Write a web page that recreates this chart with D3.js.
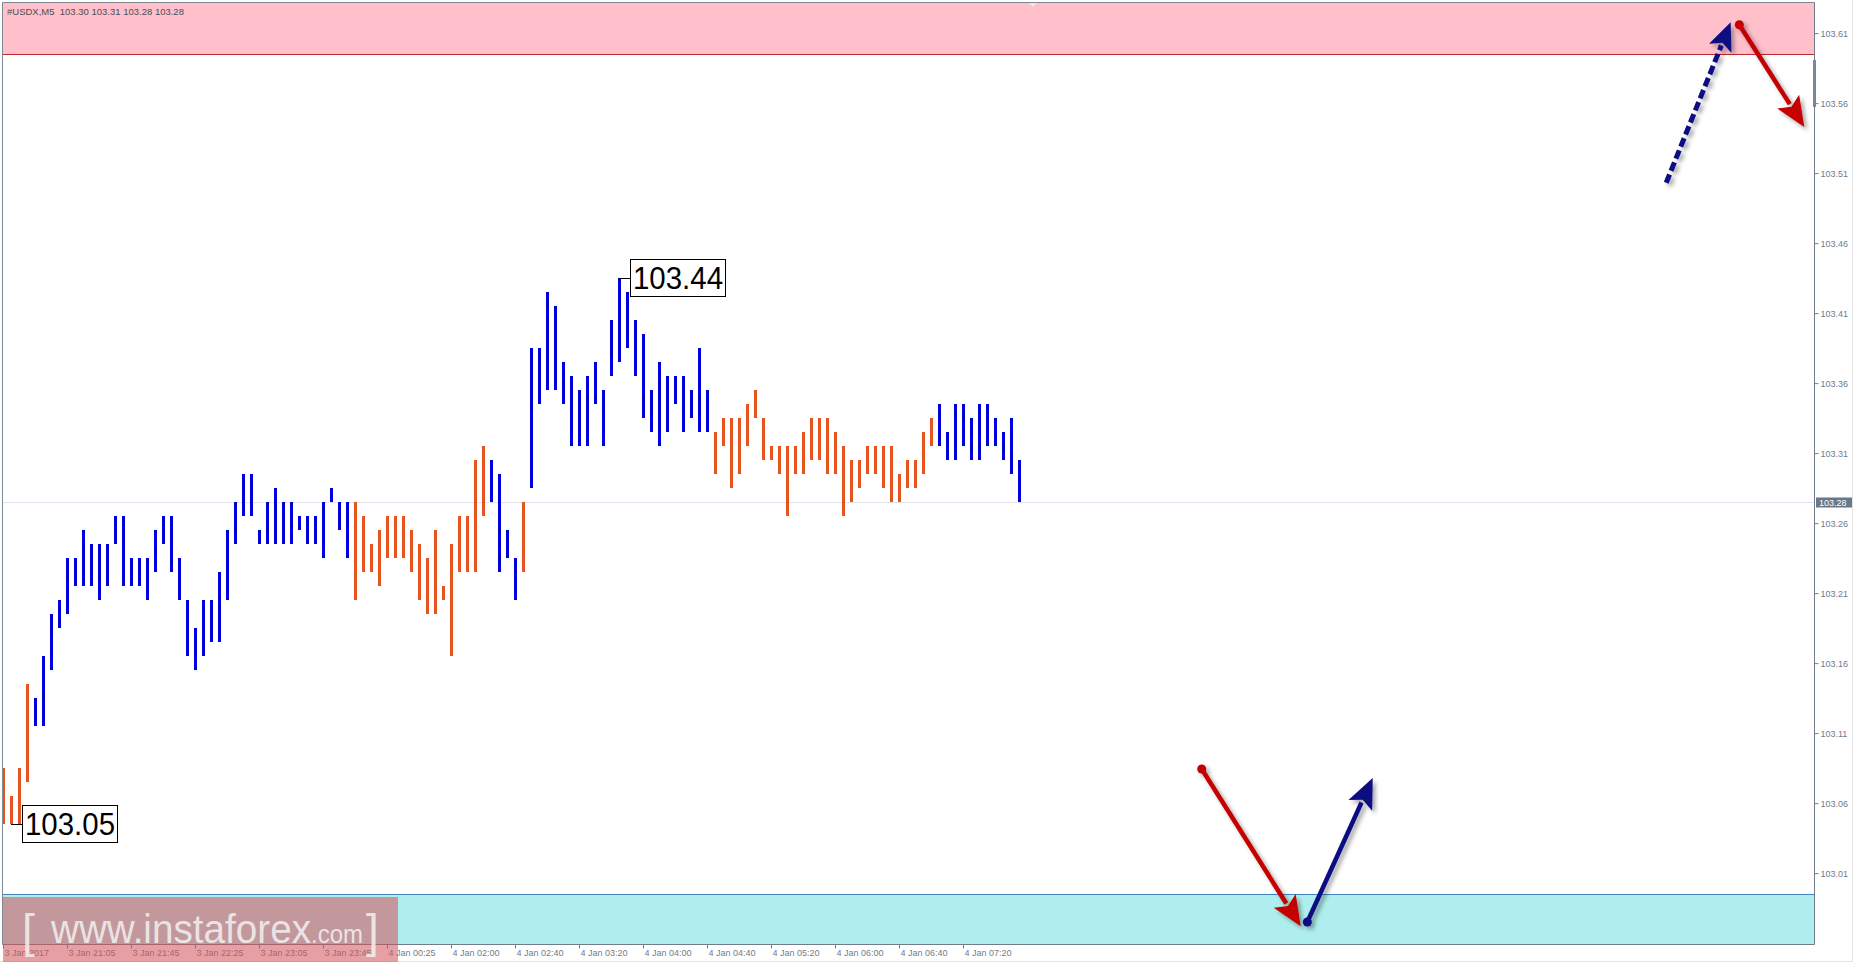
<!DOCTYPE html>
<html>
<head>
<meta charset="utf-8">
<script src="https://cdn.jsdelivr.net/npm/d3@7"></script>
<style>
html,body{margin:0;padding:0;background:#ffffff;}
svg{display:block;}
text{font-family:"Liberation Sans",Arial,sans-serif;}
</style>
</head>
<body>
<svg id="chart" width="1856" height="966"></svg>
<script>
// ---------------- data ----------------
const symbolTitle = "#USDX,M5  103.30 103.31 103.28 103.28";
const barHigh = [
 103.09,103.07,103.09,103.15,103.14,103.17,103.20,103.21,103.24,103.24,
 103.26,103.25,103.25,103.25,103.27,103.27,103.24,103.24,103.24,103.26,
 103.27,103.27,103.24,103.21,103.19,103.21,103.21,103.23,103.26,103.28,
 103.30,103.30,103.26,103.28,103.29,103.28,103.28,103.27,103.27,103.27,
 103.28,103.29,103.28,103.28,103.28,103.27,103.25,103.26,103.27,103.27,
 103.27,103.26,103.25,103.24,103.26,103.22,103.25,103.27,103.27,103.31,
 103.32,103.31,103.30,103.26,103.24,103.28,103.39,103.39,103.43,103.42,
 103.38,103.37,103.36,103.37,103.38,103.36,103.41,103.44,103.43,103.41,
 103.40,103.36,103.38,103.37,103.37,103.37,103.36,103.39,103.36,103.33,
 103.34,103.34,103.34,103.35,103.36,103.34,103.32,103.32,103.32,103.32,
 103.33,103.34,103.34,103.34,103.33,103.32,103.31,103.31,103.32,103.32,
 103.32,103.32,103.30,103.31,103.31,103.33,103.34,103.35,103.33,103.35,
 103.35,103.34,103.35,103.35,103.34,103.33,103.34,103.31
];
const barLow = [
 103.05,103.05,103.05,103.08,103.12,103.12,103.16,103.19,103.20,103.22,
 103.22,103.22,103.21,103.22,103.25,103.22,103.22,103.22,103.21,103.23,
 103.25,103.23,103.21,103.17,103.16,103.17,103.18,103.18,103.21,103.25,
 103.27,103.27,103.25,103.25,103.25,103.25,103.25,103.26,103.25,103.25,
 103.24,103.28,103.26,103.24,103.21,103.23,103.23,103.22,103.24,103.24,
 103.24,103.23,103.21,103.20,103.20,103.21,103.17,103.23,103.23,103.23,
 103.27,103.28,103.23,103.24,103.21,103.23,103.29,103.35,103.36,103.36,
 103.35,103.32,103.32,103.32,103.35,103.32,103.37,103.38,103.39,103.37,
 103.34,103.33,103.32,103.33,103.35,103.33,103.34,103.33,103.33,103.30,
 103.32,103.29,103.30,103.32,103.34,103.31,103.31,103.30,103.27,103.30,
 103.30,103.31,103.31,103.30,103.30,103.27,103.28,103.29,103.30,103.30,
 103.29,103.28,103.28,103.29,103.29,103.30,103.32,103.32,103.31,103.31,
 103.32,103.31,103.31,103.32,103.32,103.31,103.30,103.28
];
// colour runs of the wave indicator (first bar, last bar, direction)
const runStart = [0, 4, 44, 61, 65, 66, 89, 117];
const runEnd   = [3, 43, 60, 64, 65, 88, 116, 127];
const runDir   = ["down","up","down","up","down","up","down","up"];

const timeTickIndex = [0,8,16,24,32,40,48,56,64,72,80,88,96,104,112,120];
const timeTickLabels = ["3 Jan 2017","3 Jan 21:05","3 Jan 21:45","3 Jan 22:25","3 Jan 23:05",
  "3 Jan 23:45","4 Jan 00:25","4 Jan 02:00","4 Jan 02:40","4 Jan 03:20","4 Jan 04:00",
  "4 Jan 04:40","4 Jan 05:20","4 Jan 06:00","4 Jan 06:40","4 Jan 07:20"];
const priceTickLabels = ["103.01","103.06","103.11","103.16","103.21","103.26","103.31",
  "103.36","103.41","103.46","103.51","103.56","103.61"];
const lastPrice = 103.28;
const resistanceZone = [103.60, 103.70];
const supportZone = [102.90, 103.00];
// annotations: [barIndex, price]
const labelHigh = {bar: 77, price: 103.44, text: "103.44"};
const labelLow  = {bar: 1,  price: 103.05, text: "103.05"};
const arrowUpDashed  = {from: [207.9, 103.508], to: [215.96, 103.6226]};
const arrowDownTop   = {from: [217.04, 103.6209], to: [225.16, 103.5479]};
const arrowDownBot   = {from: [149.84, 103.0893], to: [162.21, 102.9769]};
const arrowUpBot     = {from: [163.04, 102.980], to: [171.21, 103.0829]};

// ---------------- layout ----------------
const svg = d3.select("#chart");
const W = 1856, H = 966;
const plotL = 2.5, plotT = 2.5, plotR = 1814.5, plotB = 944.5;
const ORANGE = "#e8531d", BLUE = "#0000dc", AXIS = "#6e7c8b";

const x = d3.scaleLinear().domain([0, 1]).range([3, 11]);          // 8 px per bar
const y = d3.scaleLinear().domain([103.28, 103.44]).range([502, 278]); // 14 px per point

const defs = svg.append("defs");
defs.append("clipPath").attr("id","plotClip").append("rect")
  .attr("x",3).attr("y",3).attr("width",plotR-3).attr("height",plotB-3);
const f = defs.append("filter").attr("id","shadow").attr("x","-20%").attr("y","-20%").attr("width","160%").attr("height","160%");
f.append("feDropShadow").attr("dx",3).attr("dy",3).attr("stdDeviation",2)
  .attr("flood-color","#000").attr("flood-opacity",0.35);

// window frame
svg.append("rect").attr("x",0).attr("y",0).attr("width",W).attr("height",H).attr("fill","#fff");
svg.append("line").attr("x1",1852.5).attr("x2",1852.5).attr("y1",0).attr("y2",961).attr("stroke","#e3e3e3");
svg.append("line").attr("x1",0).attr("x2",1853).attr("y1",961.5).attr("y2",961.5).attr("stroke","#e3e3e3");

const plot = svg.append("g").attr("clip-path","url(#plotClip)");

// zones
plot.append("rect").attr("x",plotL).attr("width",plotR-plotL)
  .attr("y",y(resistanceZone[1])).attr("height",y(resistanceZone[0])-y(resistanceZone[1]))
  .attr("fill","#ffc0cb");
plot.append("line").attr("x1",plotL).attr("x2",plotR)
  .attr("y1",Math.round(y(resistanceZone[0]))+0.5).attr("y2",Math.round(y(resistanceZone[0]))+0.5)
  .attr("stroke","#c0282e").attr("stroke-width",1.2);
plot.append("rect").attr("x",plotL).attr("width",plotR-plotL)
  .attr("y",y(supportZone[1])).attr("height",y(supportZone[0])-y(supportZone[1]))
  .attr("fill","#afeeee");
plot.append("line").attr("x1",plotL).attr("x2",plotR)
  .attr("y1",Math.round(y(supportZone[1]))+0.5).attr("y2",Math.round(y(supportZone[1]))+0.5)
  .attr("stroke","#3f86bf").attr("stroke-width",1.2);

// last price line
plot.append("line").attr("x1",plotL).attr("x2",plotR)
  .attr("y1",y(lastPrice)+0.5).attr("y2",y(lastPrice)+0.5)
  .attr("stroke","#e2e2ee").attr("stroke-width",1);

// bars
const bars = barHigh.map((h,i)=>{
  let dir = "up";
  runStart.forEach((s,k)=>{ if(i>=s && i<=runEnd[k]) dir = runDir[k]; });
  return {i, h, l: barLow[i], dir};
});
plot.append("g").selectAll("rect").data(bars).join("rect")
  .attr("x", d => Math.round(x(d.i)) - 1)
  .attr("width", 3)
  .attr("y", d => y(d.h))
  .attr("height", d => y(d.l) - y(d.h))
  .attr("fill", d => d.dir === "up" ? BLUE : ORANGE);

// price labels with boxes
function priceLabel(lbl, side){
  const bx = x(lbl.bar), by = y(lbl.price);
  const boxX = side === "hi" ? bx + 11.5 : bx + 11.5;
  plot.append("line").attr("x1",bx).attr("x2",boxX).attr("y1",by+0.5).attr("y2",by+0.5)
    .attr("stroke","#000").attr("stroke-width",1);
  plot.append("rect").attr("x",boxX).attr("y",by-18.5).attr("width",95).attr("height",37)
    .attr("fill","#fff").attr("stroke","#000").attr("stroke-width",1);
  plot.append("text").attr("x",boxX+47.5).attr("y",by+11).attr("text-anchor","middle")
    .attr("font-size",31).attr("fill","#000").attr("textLength",90).attr("lengthAdjust","spacingAndGlyphs")
    .text(lbl.text);
}
priceLabel(labelHigh,"hi");
priceLabel(labelLow,"lo");

// arrows
function arrow(a, color, opts){
  const x1 = x(a.from[0]), y1 = y(a.from[1]);
  const x2 = x(a.to[0]),   y2 = y(a.to[1]);
  const dx = x2-x1, dy = y2-y1, len = Math.hypot(dx,dy);
  const ux = dx/len, uy = dy/len;
  const hl = opts.headLen, hw = opts.headHalf;
  const bxp = x2 - ux*hl, byp = y2 - uy*hl;
  const g = plot.append("g").attr("filter","url(#shadow)");
  g.append("line").attr("x1",x1).attr("y1",y1).attr("x2",bxp+ux*3).attr("y2",byp+uy*3)
    .attr("stroke",color).attr("stroke-width",opts.width)
    .attr("stroke-dasharray",opts.dash || null);
  g.append("polygon").attr("points",[
      [x2,y2],
      [bxp - uy*hw, byp + ux*hw],
      [x2 - ux*(hl-6), y2 - uy*(hl-6)],
      [bxp + uy*hw, byp - ux*hw]
    ].map(p=>p.join(",")).join(" "))
    .attr("fill",color);
  if(opts.dot){
    g.append("circle").attr("cx",x1).attr("cy",y1).attr("r",4.5).attr("fill",color);
  }
}
arrow(arrowUpDashed, "#0a0a82", {width:5, headLen:28, headHalf:12, dash:"9,4"});
arrow(arrowDownTop, "#c40000", {width:4.5, headLen:30, headHalf:13, dot:true});
arrow(arrowDownBot, "#c40000", {width:4.5, headLen:30, headHalf:13, dot:true});
arrow(arrowUpBot, "#0a0a82", {width:4.5, headLen:30, headHalf:13, dot:true});

// header text
svg.append("text").attr("x",7).attr("y",14.5).attr("font-size",9.5).attr("fill","#4d4d4d")
  .attr("xml:space","preserve").text(symbolTitle);

// chart-shift marker
svg.append("path").attr("d","M1029,3 L1037,3 L1033,7 Z").attr("fill","#e8e8e8");

// frame
svg.append("path").attr("d",`M${plotL},${plotB} V${plotT} H${plotR}`).attr("fill","none").attr("stroke","#7d8893").attr("stroke-width",1);
svg.append("line").attr("x1",plotL).attr("x2",plotR).attr("y1",plotB).attr("y2",plotB).attr("stroke","#6e7c8b");
svg.append("line").attr("x1",plotR).attr("x2",plotR).attr("y1",plotT).attr("y2",plotB).attr("stroke","#6e7c8b");
// axis marker
svg.append("rect").attr("x",1813).attr("y",60).attr("width",3).attr("height",47).attr("fill","#7b8997");

// price axis
const tickOffset = 0.0049; // terminal rounds grid values for display
const yAxis = d3.axisRight(y)
  .tickValues(priceTickLabels.map(s => +s + tickOffset))
  .tickFormat(v => v.toFixed(2))
  .tickSize(4).tickPadding(2);
const ya = svg.append("g").attr("transform",`translate(${plotR},0)`).call(yAxis);
ya.select(".domain").remove();
ya.selectAll("line").attr("stroke",AXIS);
ya.selectAll("text").attr("fill",AXIS).attr("font-size",9).attr("font-family","Liberation Sans, Arial, sans-serif");

// last price tag
const lp = y(lastPrice);
svg.append("rect").attr("x",1816).attr("y",lp-4.5).attr("width",36).attr("height",10).attr("fill","#66788a");
svg.append("text").attr("x",1819).attr("y",lp+4).attr("font-size",9).attr("fill","#fff").text(lastPrice.toFixed(2));

// time axis
const xAxis = d3.axisBottom(x)
  .tickValues(timeTickIndex)
  .tickFormat((d,i) => timeTickLabels[i])
  .tickSize(4).tickPadding(3);
const xa = svg.append("g").attr("transform",`translate(0,${plotB})`).call(xAxis);
xa.select(".domain").remove();
xa.selectAll("line").attr("stroke",AXIS);
xa.selectAll("text").attr("fill",AXIS).attr("font-size",9)
  .attr("font-family","Liberation Sans, Arial, sans-serif")
  .attr("text-anchor","start").attr("dx",1).attr("dy","0.55em");

// watermark
const wm = svg.append("g");
wm.append("rect").attr("x",3).attr("y",897).attr("width",395).attr("height",65)
  .attr("fill","rgb(210,82,90)").attr("fill-opacity",0.55);
const wmt = wm.append("g").attr("fill","#f2f2f2").attr("fill-opacity",0.85);
wmt.append("text").attr("x",22).attr("y",947).attr("font-size",46).attr("font-weight",300).text("[");
wmt.append("text").attr("x",51).attr("y",943).attr("font-size",40)
  .attr("textLength",260).attr("lengthAdjust","spacingAndGlyphs").text("www.instaforex");
wmt.append("text").attr("x",311).attr("y",943).attr("font-size",26)
  .attr("textLength",52).attr("lengthAdjust","spacingAndGlyphs").text(".com");
wmt.append("text").attr("x",366).attr("y",947).attr("font-size",46).text("]");
</script>
</body>
</html>
